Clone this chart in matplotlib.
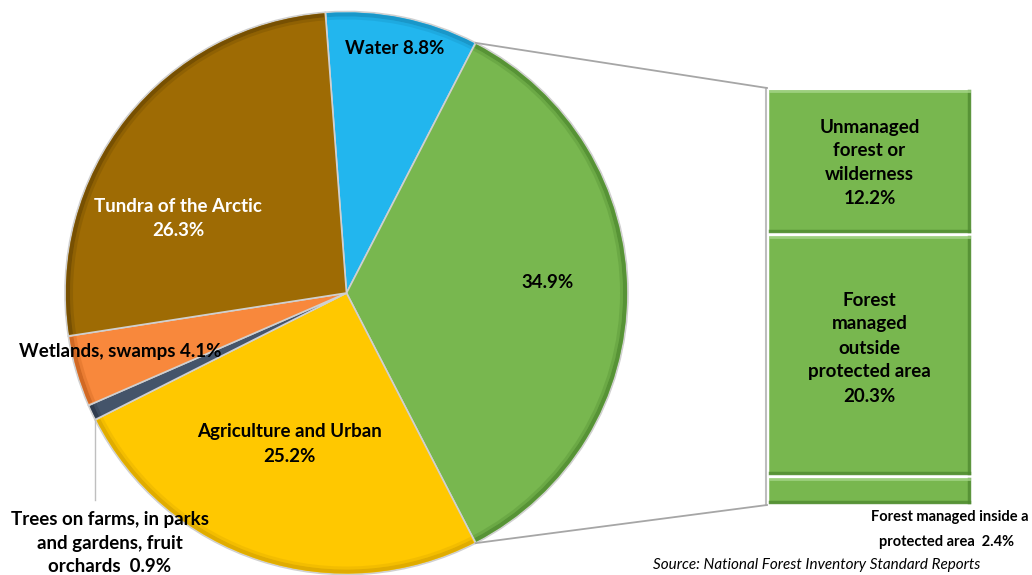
import matplotlib
matplotlib.use('Agg')
import matplotlib.pyplot as plt
import numpy as np
from matplotlib.patches import Wedge

# pie slices, clockwise from Water
pie_labels = ['Water', 'Forest', 'Agriculture and Urban',
              'Trees on farms, in parks and gardens, fruit orchards',
              'Wetlands, swamps', 'Tundra of the Arctic']
pie_values = [8.8, 34.9, 25.2, 0.9, 4.1, 26.3]
pie_colors = ['#22B6EE', '#78B74F', '#FFC800', '#44546A', '#F8883C', '#9E6B04']
pie_rims = ['#1890C0', '#4F8A30', '#D9A600', '#2C3747', '#C8621E', '#6E4A02']

# forest broken down in the bar (bottom to top)
bar_labels = ['Forest managed inside a protected area',
              'Forest managed outside protected area',
              'Unmanaged forest or wilderness']
bar_values = [2.4, 20.3, 12.2]

W, H = 1032, 575
fig = plt.figure(figsize=(W / 100, H / 100), dpi=100)
ax = fig.add_axes([0, 0, 1, 1])


def py(y):
    # pixel row -> data y
    return H - y


cx, cy, R = 346.5, py(293), 281.5
total = sum(pie_values)
start = (pie_values[0] + pie_values[1] / 2) / total * 360

wedges, _ = ax.pie(pie_values, colors=pie_colors, startangle=start,
                   counterclock=False, center=(cx, cy), radius=R,
                   wedgeprops=dict(edgecolor='#d0d0d0', linewidth=1.2))

# bevel-ish darker rim
for w, rc in zip(wedges, pie_rims):
    ax.add_patch(Wedge((cx, cy), R - 1, w.theta1 + 0.3, w.theta2 - 0.3,
                       width=4, facecolor=rc, edgecolor='none', alpha=0.8))
    ax.add_patch(Wedge((cx, cy), R - 5, w.theta1 + 0.3, w.theta2 - 0.3,
                       width=3, facecolor=rc, edgecolor='none', alpha=0.3))

# stacked bar for the forest slice
bx, bw = 869.5, 205
bar_top, bar_bot = py(88), py(505)
scale = (bar_top - bar_bot) / sum(bar_values)
bottoms = bar_bot + np.concatenate([[0], np.cumsum(bar_values)[:-1]]) * scale
ax.bar([bx] * 3, np.array(bar_values) * scale, bottom=bottoms, width=bw,
       color='#78B74F', edgecolor='white', linewidth=2.5)
for b, v in zip(bottoms, bar_values):
    h = v * scale
    ax.plot([bx - bw / 2 + 3, bx + bw / 2 - 3], [b + 3, b + 3], color='#4F8A30', lw=2.5, alpha=0.8)
    ax.plot([bx + bw / 2 - 3, bx + bw / 2 - 3], [b + 3, b + h - 3], color='#4F8A30', lw=2.5, alpha=0.8)
    ax.plot([bx - bw / 2 + 3, bx + bw / 2 - 3], [b + h - 3, b + h - 3], color='#A6D68A', lw=2, alpha=0.8)
ax.plot([bx - bw / 2 - 1] * 2, [bar_bot, bar_top], color='#bdbdbd', lw=1.5)

# connector lines
fw = wedges[1]
for ang, by in [(fw.theta2, bar_top), (fw.theta1, bar_bot)]:
    x0 = cx + R * np.cos(np.radians(ang))
    y0 = cy + R * np.sin(np.radians(ang))
    ax.plot([x0, bx - bw / 2], [y0, by], color='#a6a6a6', lw=1.3)

# label line for the small slice
ax.plot([95, 95], [py(420), py(500)], color='#bfbfbf', lw=1)

fam = ['Lato', 'DejaVu Sans']
fs = 13.5
kw = dict(fontsize=fs, fontweight='bold', family=fam, ha='center', va='center',
          linespacing=1.5)
ax.text(395, py(48), f'Water {pie_values[0]}%', **kw)
ax.text(548, py(282), f'{pie_values[1]}%', **kw)
ax.text(178, py(218), f'Tundra of the Arctic\n{pie_values[5]}%', color='white', **kw)
ax.text(120, py(352), f'Wetlands, swamps {pie_values[4]}%', **kw)
ax.text(289, py(444), f'Agriculture and Urban\n{pie_values[2]}%', **kw)
ax.text(110, py(543), f'Trees on farms, in parks\nand gardens, fruit\norchards  {pie_values[3]}%', **kw)

ax.text(bx, py(163), f'Unmanaged\nforest or\nwilderness\n{bar_values[2]}%', **kw)
ax.text(bx, py(348), f'Forest\nmanaged\noutside\nprotected area\n{bar_values[1]}%', **kw)
ax.text(950, py(517), 'Forest managed inside a', fontsize=10.5, fontweight='bold',
        family=fam, ha='center', va='center')
ax.text(947, py(542), f'protected area  {bar_values[0]}%', fontsize=10.5, fontweight='bold',
        family=fam, ha='center', va='center')
ax.text(980, py(565), 'Source: National Forest Inventory Standard Reports', fontsize=11,
        style='italic', family=fam, ha='right', va='center')

ax.set_xlim(0, W)
ax.set_ylim(0, H)
ax.set_aspect('equal')
ax.axis('off')

fig.savefig('out.png', dpi=100)
